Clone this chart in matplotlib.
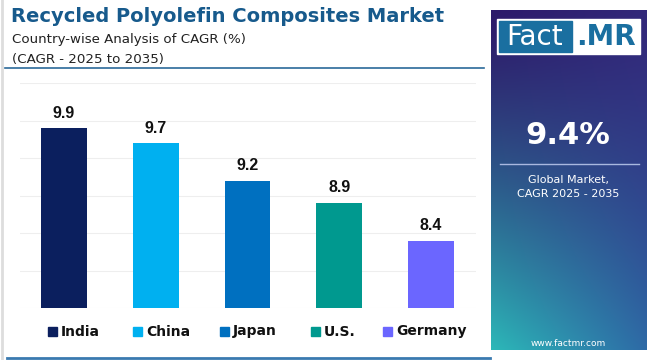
import numpy as np
import matplotlib.pyplot as plt
from matplotlib.patches import Rectangle
from matplotlib.colors import to_rgb

countries = ["India", "China", "Japan", "U.S.", "Germany"]
cagr = [9.9, 9.7, 9.2, 8.9, 8.4]
colors = ["#0b1f5e", "#00b0f0", "#0070c0", "#00998f", "#6b66ff"]
global_cagr = "9.4%"

W, H = 650, 360
fig = plt.figure(figsize=(6.5, 3.6), dpi=100)
fig.patch.set_facecolor("white")

# helper: pixel coords -> figure fraction
def fx(x):
    return x / W

def fy(y):
    return 1 - y / H

# title block
fig.text(fx(11), fy(17), "Recycled Polyolefin Composites Market", fontsize=14,
         fontweight="bold", color="#175a8c", va="center", ha="left", family="DejaVu Sans")
fig.text(fx(12), fy(39), "Country-wise Analysis of CAGR (%)", fontsize=9.6,
         color="#222222", va="center", ha="left", family="DejaVu Sans")
fig.text(fx(12), fy(59), "(CAGR - 2025 to 2035)", fontsize=9.6,
         color="#222222", va="center", ha="left", family="DejaVu Sans")
fig.add_artist(plt.Line2D([fx(5), fx(484)], [fy(68), fy(68)], color="#2b6a9a", lw=1.2))
fig.add_artist(plt.Line2D([fx(7), fx(490)], [fy(358), fy(358)], color="#3a7ab0", lw=2))
fig.add_artist(plt.Line2D([fx(1.5), fx(1.5)], [0, 1], color="#dddddd", lw=2))

# bar chart
ax = fig.add_axes([fx(20), 1 - 308 / H, 456 / W, 225 / H])
x = np.arange(len(countries))
ax.bar(x, cagr, width=0.5, color=colors, zorder=3)
for xi, v in zip(x, cagr):
    ax.text(xi, v + 0.1, f"{v}", ha="center", va="bottom", fontsize=11.5,
            fontweight="bold", color="#111111", family="Liberation Sans")
ax.set_ylim(7.5, 10.5)
ax.set_xlim(-0.48, 4.49)
ax.set_yticks(np.arange(7.5, 10.51, 0.5))
ax.yaxis.grid(True, color="#eeeeee", lw=0.8, zorder=0)
ax.set_xticks([])
ax.tick_params(left=False, labelleft=False)
for s in ax.spines.values():
    s.set_visible(False)

# legend
leg_sq = [48, 133, 220, 311, 383]
for px, name, c in zip(leg_sq, countries, colors):
    fig.add_artist(Rectangle((fx(px), fy(336)), 9 / W, 9 / H, color=c, transform=fig.transFigure))
    fig.text(fx(px + 13), fy(331.5), name, fontsize=10, fontweight="bold",
             color="#111111", va="center", ha="left", family="DejaVu Sans")

# right panel with gradient
tl, tr = np.array(to_rgb("#2d1a6a")), np.array(to_rgb("#32287a"))
bl, br = np.array(to_rgb("#2cb8b8")), np.array(to_rgb("#2e6aa6"))
ny, nx = 200, 100
ty = np.linspace(0, 1, ny)[:, None, None]
tx = np.linspace(0, 1, nx)[None, :, None]
top = tl * (1 - tx) + tr * tx
bot = bl * (1 - tx) + br * tx
grad = top * (1 - ty ** 1.3) + bot * ty ** 1.3
pax = fig.add_axes([fx(491), 1 - 350 / H, 156 / W, 340 / H])
pax.imshow(grad, aspect="auto", extent=[0, 1, 0, 1], origin="upper")
pax.set_xlim(0, 1)
pax.set_ylim(0, 1)
pax.axis("off")

# logo
fig.add_artist(Rectangle((fx(497), fy(54)), 143 / W, 35 / H, color="white", transform=fig.transFigure))
fig.add_artist(Rectangle((fx(499), fy(52)), 73 / W, 31 / H, color="#1a6fa0", transform=fig.transFigure))
fig.text(fx(535), fy(37), "Fact", fontsize=20, color="white", ha="center", va="center",
         family="DejaVu Sans")
fig.text(fx(606), fy(37), ".MR", fontsize=20, color="#1a6fa0", ha="center", va="center",
         fontweight="bold", family="DejaVu Sans")

fig.text(fx(568), fy(136), global_cagr, fontsize=22, fontweight="bold", color="white",
         ha="center", va="center", family="DejaVu Sans")
fig.add_artist(plt.Line2D([fx(500), fx(639)], [fy(164), fy(164)], color="#a9b8e0", lw=1))
fig.text(fx(568), fy(180), "Global Market,", fontsize=8, color="white", ha="center", va="center",
         family="DejaVu Sans")
fig.text(fx(568), fy(194), "CAGR 2025 - 2035", fontsize=8, color="white", ha="center", va="center",
         family="DejaVu Sans")
fig.text(fx(568), fy(343), "www.factmr.com", fontsize=6.5, color="white", ha="center", va="center",
         family="DejaVu Sans")

fig.savefig("out.png", dpi=100)
